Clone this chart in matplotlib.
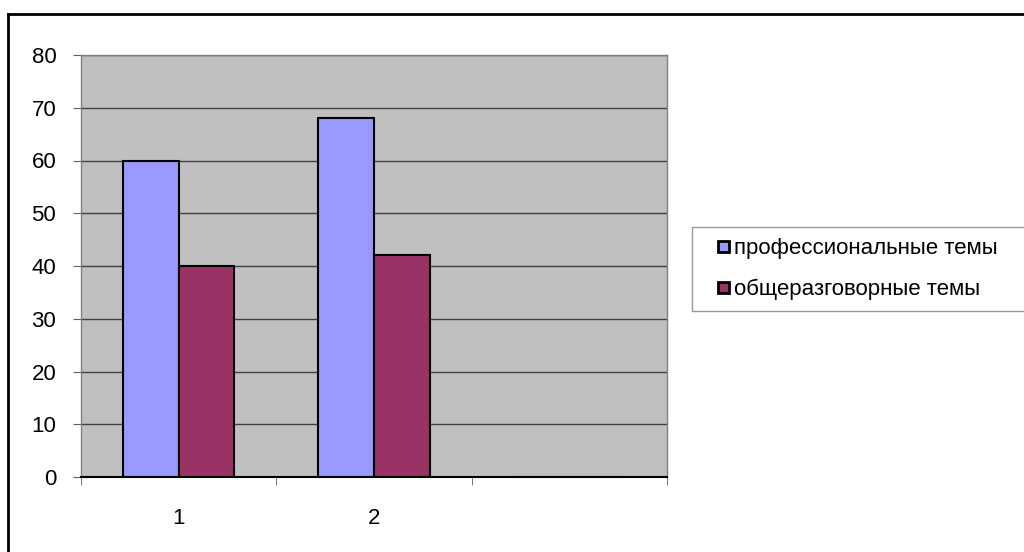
import matplotlib

matplotlib.use("Agg")
import matplotlib.pyplot as plt
from matplotlib.legend_handler import HandlerPatch
from matplotlib.lines import Line2D
from matplotlib.patches import Patch, Rectangle
import numpy as np

categories = ["1", "2", ""]
prof_topics = [60, 68, None]
general_topics = [40, 42, None]
series_names = ["профессиональные темы", "общеразговорные темы"]
y_ticks = [0, 10, 20, 30, 40, 50, 60, 70, 80]

plt.rcParams["font.family"] = ["Liberation Sans", "DejaVu Sans"]

W, H = 1024, 552
fig = plt.figure(figsize=(W / 100, H / 100), dpi=100)
ax = fig.add_axes([81 / W, 1 - 477 / H, (667 - 81) / W, (477 - 55) / H])
ax.set_facecolor("#C0C0C0")

x = np.arange(len(categories))
width = 1 / 3.5
vals1 = [v if v is not None else 0 for v in prof_topics]
vals2 = [v if v is not None else 0 for v in general_topics]
ax.bar(x - width / 2, vals1, width, color="#9999FF", edgecolor="black", linewidth=1.5, zorder=3)
ax.bar(x + width / 2, vals2, width, color="#993366", edgecolor="black", linewidth=1.5, zorder=3)

ax.set_xlim(-0.5, len(categories) - 0.5)
ax.set_ylim(0, 80)
ax.set_yticks(y_ticks)
ax.set_yticklabels([str(t) for t in y_ticks], fontsize=16)
ax.yaxis.grid(True, color="#404040", linewidth=1.0, zorder=1)
ax.set_axisbelow(True)

ax.set_xticks(x)
ax.set_xticklabels(categories, fontsize=16)
ax.set_xticks(np.arange(len(categories) + 1) - 0.5, minor=True)
ax.tick_params(axis="x", which="major", length=0, pad=22)
ax.tick_params(axis="x", which="minor", length=5.8, direction="out", color="#606060")
ax.tick_params(axis="y", length=5.8, direction="out", color="#606060", pad=12)

for side in ["top", "right", "left"]:
    ax.spines[side].set_color("#808080")
    ax.spines[side].set_linewidth(1.0)
ax.spines["bottom"].set_color("black")
ax.spines["bottom"].set_linewidth(1.5)


def small_square(legend, orig_handle, xdescent, ydescent, width, height, fontsize):
    s = 0.5 * fontsize
    return Rectangle((width - xdescent - s, -ydescent + (height - s) / 2), s, s)


handles = [
    Patch(facecolor="#9999FF", edgecolor="black", linewidth=2.0),
    Patch(facecolor="#993366", edgecolor="black", linewidth=2.0),
]
leg = fig.legend(
    handles,
    series_names,
    loc="upper left",
    bbox_to_anchor=(692 / W, 1 - 227 / H - 0.01, (1030 - 692) / W, 0.01),
    mode="expand",
    fontsize=16,
    frameon=True,
    fancybox=False,
    handler_map={Patch: HandlerPatch(patch_func=small_square)},
    handlelength=1.15,
    handleheight=0.7,
    handletextpad=0.25,
    labelspacing=0.88,
    borderpad=0.5,
    borderaxespad=0,
)
leg.get_frame().set_edgecolor("#808080")
leg.get_frame().set_linewidth(1.0)

# outer chart border (only top and left visible)
fig.add_artist(Line2D([8 / W, 1.0], [1 - 14 / H, 1 - 14 / H], color="black", linewidth=2.0))
fig.add_artist(Line2D([8 / W, 8 / W], [1 - 14 / H, 0], color="black", linewidth=2.0))

fig.savefig("out.png", dpi=100)
